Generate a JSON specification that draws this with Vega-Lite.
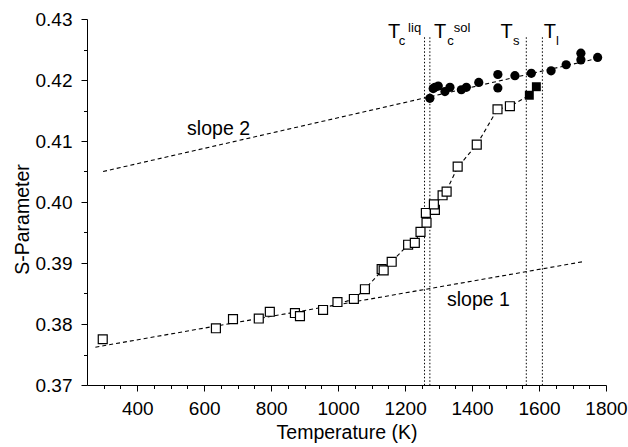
{
  "$schema": "https://vega.github.io/schema/vega-lite/v6.json",
  "width": 519,
  "height": 366,
  "autosize": {"type": "none"},
  "padding": {"left": 87, "top": 19, "right": 22, "bottom": 62},
  "background": "white",
  "config": {"font": "Liberation Sans", "view": {"stroke": null}},
  "datasets": {
    "open": [
      {"T": 297, "S": 0.3775}, {"T": 635, "S": 0.3793}, {"T": 686, "S": 0.3808},
      {"T": 763, "S": 0.3809}, {"T": 796, "S": 0.3820}, {"T": 871, "S": 0.3818},
      {"T": 886, "S": 0.3813}, {"T": 955, "S": 0.3823}, {"T": 998, "S": 0.3836},
      {"T": 1047, "S": 0.3841}, {"T": 1080, "S": 0.3857}, {"T": 1130, "S": 0.3890},
      {"T": 1136, "S": 0.3888}, {"T": 1160, "S": 0.3902}, {"T": 1209, "S": 0.3930},
      {"T": 1229, "S": 0.3933}, {"T": 1246, "S": 0.3951}, {"T": 1264, "S": 0.3966},
      {"T": 1262, "S": 0.3982}, {"T": 1289, "S": 0.3987}, {"T": 1286, "S": 0.3996},
      {"T": 1312, "S": 0.4011}, {"T": 1324, "S": 0.4017}, {"T": 1357, "S": 0.4058},
      {"T": 1414, "S": 0.4094}, {"T": 1476, "S": 0.4152}, {"T": 1513, "S": 0.4157}
    ],
    "filledsq": [{"T": 1571, "S": 0.4175}, {"T": 1592, "S": 0.4189}],
    "circles": [
      {"T": 1274, "S": 0.4170}, {"T": 1284, "S": 0.4186}, {"T": 1289, "S": 0.4188},
      {"T": 1299, "S": 0.4190}, {"T": 1319, "S": 0.4181}, {"T": 1334, "S": 0.4188},
      {"T": 1368, "S": 0.4184}, {"T": 1383, "S": 0.4188}, {"T": 1420, "S": 0.4196},
      {"T": 1477, "S": 0.4209}, {"T": 1477, "S": 0.4187}, {"T": 1528, "S": 0.4207},
      {"T": 1577, "S": 0.4211}, {"T": 1636, "S": 0.4215}, {"T": 1681, "S": 0.4225},
      {"T": 1725, "S": 0.4244}, {"T": 1725, "S": 0.4233}, {"T": 1775, "S": 0.4237}
    ],
    "slope1": [{"T": 275, "S": 0.3762}, {"T": 1730, "S": 0.3902}],
    "slope2": [{"T": 298, "S": 0.4050}, {"T": 1780, "S": 0.4236}],
    "curve": [
      {"T": 1000, "S": 0.3833}, {"T": 1047, "S": 0.3841}, {"T": 1080, "S": 0.3857},
      {"T": 1133, "S": 0.3889}, {"T": 1160, "S": 0.3902}, {"T": 1209, "S": 0.3930},
      {"T": 1229, "S": 0.3935}, {"T": 1246, "S": 0.3951}, {"T": 1264, "S": 0.3970},
      {"T": 1286, "S": 0.3993}, {"T": 1312, "S": 0.4011}, {"T": 1324, "S": 0.4019},
      {"T": 1357, "S": 0.4057}, {"T": 1414, "S": 0.4094}, {"T": 1476, "S": 0.4152},
      {"T": 1513, "S": 0.4157}, {"T": 1571, "S": 0.4175}, {"T": 1592, "S": 0.4189}
    ],
    "vlines": [{"T": 1258, "S": 0.427}, {"T": 1274, "S": 0.427}, {"T": 1562, "S": 0.427}, {"T": 1610, "S": 0.427}],
    "bigT": [
      {"T": 1149, "S": 0.42689, "txt": "T"}, {"T": 1286, "S": 0.42689, "txt": "T"},
      {"T": 1485, "S": 0.42689, "txt": "T"}, {"T": 1614, "S": 0.42689, "txt": "T"}
    ],
    "subs": [
      {"T": 1181, "S": 0.42574, "txt": "c"}, {"T": 1326, "S": 0.42574, "txt": "c"},
      {"T": 1522, "S": 0.42574, "txt": "s"}, {"T": 1651, "S": 0.42574, "txt": "l"}
    ],
    "sups": [
      {"T": 1209, "S": 0.42787, "txt": "liq"}, {"T": 1345, "S": 0.42787, "txt": "sol"}
    ],
    "slopelab": [
      {"T": 549, "S": 0.4110, "txt": "slope 2"}, {"T": 1325, "S": 0.3830, "txt": "slope 1"}
    ]
  },
  "encoding": {
    "x": {"field": "T", "type": "quantitative", "scale": {"domain": [250, 1800], "nice": false, "zero": false},
      "axis": {"orient": "bottom",
        "values": [300, 350, 400, 450, 500, 550, 600, 650, 700, 750, 800, 850, 900, 950, 1000, 1050, 1100, 1150, 1200, 1250, 1300, 1350, 1400, 1450, 1500, 1550, 1600, 1650, 1700, 1750, 1800],
        "labelExpr": "datum.value % 200 === 0 ? format(datum.value, 'd') : ''",
        "title": "Temperature (K)",
        "tickSize": {"condition": {"test": "datum.value % 200 === 0", "value": 6}, "value": 3.5},
        "labelPadding": 8, "labelFontSize": 19, "titleFontSize": 19.5, "titleFontWeight": "normal",
        "titlePadding": 5, "domainColor": "black", "tickColor": "black", "labelColor": "black", "titleColor": "black", "grid": false, "labelFlush": false, "labelOverlap": false}},
    "y": {"field": "S", "type": "quantitative", "scale": {"domain": [0.37, 0.43], "nice": false, "zero": false},
      "axis": {"orient": "left",
        "values": [0.37, 0.375, 0.38, 0.385, 0.39, 0.395, 0.40, 0.405, 0.41, 0.415, 0.42, 0.425, 0.43],
        "labelExpr": "abs(datum.value * 100 - round(datum.value * 100)) < 0.01 ? format(datum.value, '.2f') : ''",
        "title": "S-Parameter",
        "tickSize": {"condition": {"test": "abs(datum.value * 100 - round(datum.value * 100)) < 0.01", "value": 6}, "value": 3.5},
        "labelPadding": 9, "labelFontSize": 19, "titleFontSize": 19.5, "titleFontWeight": "normal",
        "titlePadding": 3, "titleY": 200, "domainColor": "black", "tickColor": "black", "labelColor": "black", "titleColor": "black", "grid": false, "labelFlush": false, "labelOverlap": false}}
  },
  "layer": [
    {
      "data": {"name": "slope1"},
      "mark": {"type": "line", "color": "black", "strokeWidth": 1.1, "strokeDash": [4, 3]}
    },
    {
      "data": {"name": "slope2"},
      "mark": {"type": "line", "color": "black", "strokeWidth": 1.1, "strokeDash": [4, 3]}
    },
    {
      "data": {"name": "curve"},
      "mark": {"type": "line", "color": "black", "strokeWidth": 1.1, "strokeDash": [4, 3]}
    },
    {
      "data": {"name": "vlines"},
      "mark": {"type": "rule", "color": "black", "strokeWidth": 1, "strokeDash": [1.5, 2]},
      "encoding": {
        "y2": {"datum": 0.37}
      }
    },
    {
      "data": {"name": "open"},
      "mark": {"type": "point", "shape": "square", "size": 80, "filled": true, "fill": "white", "stroke": "black", "strokeWidth": 1.2, "opacity": 1}
    },
    {
      "data": {"name": "filledsq"},
      "mark": {"type": "point", "shape": "square", "size": 80, "filled": true, "color": "black", "opacity": 1}
    },
    {
      "data": {"name": "circles"},
      "mark": {"type": "point", "shape": "circle", "size": 85, "filled": true, "color": "black", "opacity": 1}
    },
    {
      "data": {"name": "bigT"},
      "mark": {"type": "text", "fontSize": 20, "align": "left", "baseline": "alphabetic", "color": "black"},
      "encoding": {"text": {"field": "txt"}}
    },
    {
      "data": {"name": "subs"},
      "mark": {"type": "text", "fontSize": 13, "align": "left", "baseline": "alphabetic", "color": "black"},
      "encoding": {"text": {"field": "txt"}}
    },
    {
      "data": {"name": "sups"},
      "mark": {"type": "text", "fontSize": 13, "align": "left", "baseline": "alphabetic", "color": "black"},
      "encoding": {"text": {"field": "txt"}}
    },
    {
      "data": {"name": "slopelab"},
      "mark": {"type": "text", "fontSize": 19.5, "align": "left", "baseline": "alphabetic", "color": "black"},
      "encoding": {"text": {"field": "txt"}}
    }
  ]
}
